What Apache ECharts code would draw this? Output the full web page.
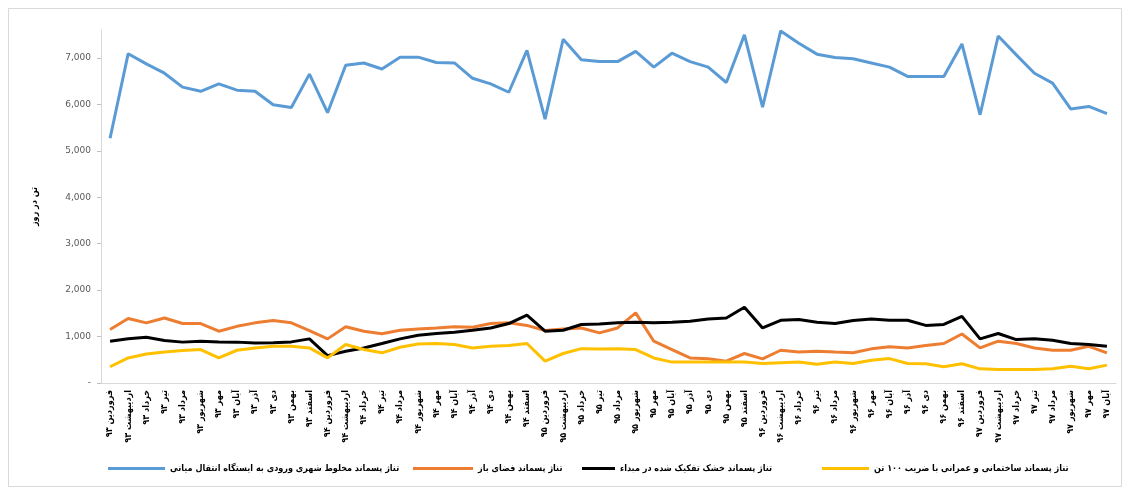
<!DOCTYPE html>
<html>
<head>
<meta charset="utf-8">
<script src="https://cdn.jsdelivr.net/npm/echarts@6/dist/echarts.min.js"></script>
<style>
html,body{margin:0;padding:0;background:#fff;}
#chart{width:1134px;height:490px;}
</style>
</head>
<body>
<div id="chart"></div>
<script>
const months = ['فروردین','اردیبهشت','خرداد','تیر','مرداد','شهریور','مهر','آبان','آذر','دی','بهمن','اسفند'];
const years = ['۹۳','۹۴','۹۵','۹۶','۹۷'];
const monthCountLastYear = 8;

const seriesNames = [
  'تناژ پسماند مخلوط شهری ورودی به ایستگاه انتقال میانی',
  'تناژ پسماند فضای باز',
  'تناژ پسماند خشک تفکیک شده در مبداء',
  'تناژ پسماند ساختمانی و عمرانی با ضریب ۱۰۰ تن'
];

const mixedWaste = [5270,7090,6870,6670,6370,6280,6440,6305,6280,5990,5930,6650,5820,6840,6890,6760,7015,7015,6900,
  6890,6560,6440,6260,7160,5680,7400,6960,6920,6920,7140,6800,7100,6920,6800,6470,7495,
  5940,7580,7315,7080,7010,6980,6890,6800,6600,6600,6600,7300,5775,7470,7065,6670,6455,5900,5955,5800];

const openSpaceWaste = [1150,1390,1295,1400,1280,1280,1115,1220,1295,1345,1295,1130,950,1210,1115,1060,1135,1165,1185,
  1210,1200,1280,1295,1240,1130,1165,1185,1080,1185,1510,900,720,540,520,470,635,
  520,705,665,685,665,650,735,780,755,805,850,1055,755,900,850,755,705,705,790,650];

const drySeparatedWaste = [900,955,985,915,880,900,885,880,860,865,885,950,590,685,755,850,950,1030,1065,
  1095,1135,1185,1280,1460,1115,1135,1260,1270,1295,1310,1295,1310,1330,1380,1400,1630,
  1185,1350,1365,1310,1280,1345,1380,1350,1350,1240,1260,1435,950,1065,935,955,920,850,830,790];

const constructionWaste = [350,540,625,665,700,720,540,705,755,790,790,755,540,830,720,650,770,840,850,
  830,755,790,805,850,470,635,740,730,735,720,540,450,450,450,450,450,
  420,435,450,405,450,420,490,525,420,415,350,415,305,290,290,290,305,360,305,385];

const yTickValues = [0,1000,2000,3000,4000,5000,6000,7000];

const categories = [];
years.forEach((y, yi) => {
  const n = yi === years.length - 1 ? monthCountLastYear : months.length;
  for (let m = 0; m < n; m++) categories.push(months[m] + ' ' + y);
});

const colors = ['#5b9bd5','#ed7d31','#000000','#ffc000'];
const dataSets = [mixedWaste, openSpaceWaste, drySeparatedWaste, constructionWaste];

const font = 'DejaVu Sans Condensed, DejaVu Sans';
const chart = echarts.init(document.getElementById('chart'));

const legendPos = [
  {left: 103, w: 57},
  {left: 408, w: 60},
  {left: 577, w: 33},
  {left: 817, w: 47}
];

chart.setOption({
  animation: false,
  backgroundColor: '#fff',
  graphic: [{
    type: 'rect',
    shape: {x: 8.5, y: 8.5, width: 1113, height: 478},
    style: {fill: 'none', stroke: '#d9d9d9', lineWidth: 1},
    silent: true, z: -1
  }],
  grid: {left: 101, right: 18, top: 30, bottom: 107, containLabel: false},
  legend: legendPos.map((p, i) => ({
    data: [seriesNames[i]],
    left: p.left,
    top: 459,
    icon: 'rect',
    itemWidth: p.w,
    itemHeight: 3,
    itemGap: 4,
    textStyle: {fontFamily: font, fontSize: 9, fontWeight: 'bold', color: '#000'}
  })),
  xAxis: {
    type: 'category',
    data: categories,
    boundaryGap: true,
    axisLine: {lineStyle: {color: '#d9d9d9', width: 1}},
    axisTick: {show: false},
    axisLabel: {
      interval: 0, rotate: 90, margin: 7,
      fontFamily: font, fontSize: 9, fontWeight: 'bold', color: '#000'
    },
    splitLine: {show: false}
  },
  yAxis: {
    type: 'value',
    min: 0, max: 7600, interval: 1000,
    name: 'تن در روز',
    nameLocation: 'middle',
    nameRotate: 90,
    nameGap: 62,
    nameTextStyle: {fontFamily: font, fontSize: 9, fontWeight: 'bold', color: '#000'},
    axisLine: {show: true, lineStyle: {color: '#d9d9d9', width: 1}},
    axisTick: {show: true, inside: false, length: 4, lineStyle: {color: '#bfbfbf'}},
    axisLabel: {
      margin: 10, fontFamily: 'DejaVu Sans', fontSize: 9, color: '#595959',
      formatter: v => yTickValues.indexOf(v) < 0 ? '' : (v === 0 ? '-' : v.toLocaleString('en-US')),
      showMaxLabel: false
    },
    splitLine: {show: false}
  },
  series: dataSets.map((d, i) => ({
    name: seriesNames[i],
    type: 'line',
    data: d,
    symbol: 'none',
    lineStyle: {color: colors[i], width: 3},
    itemStyle: {color: colors[i]}
  }))
});
</script>
</body>
</html>
